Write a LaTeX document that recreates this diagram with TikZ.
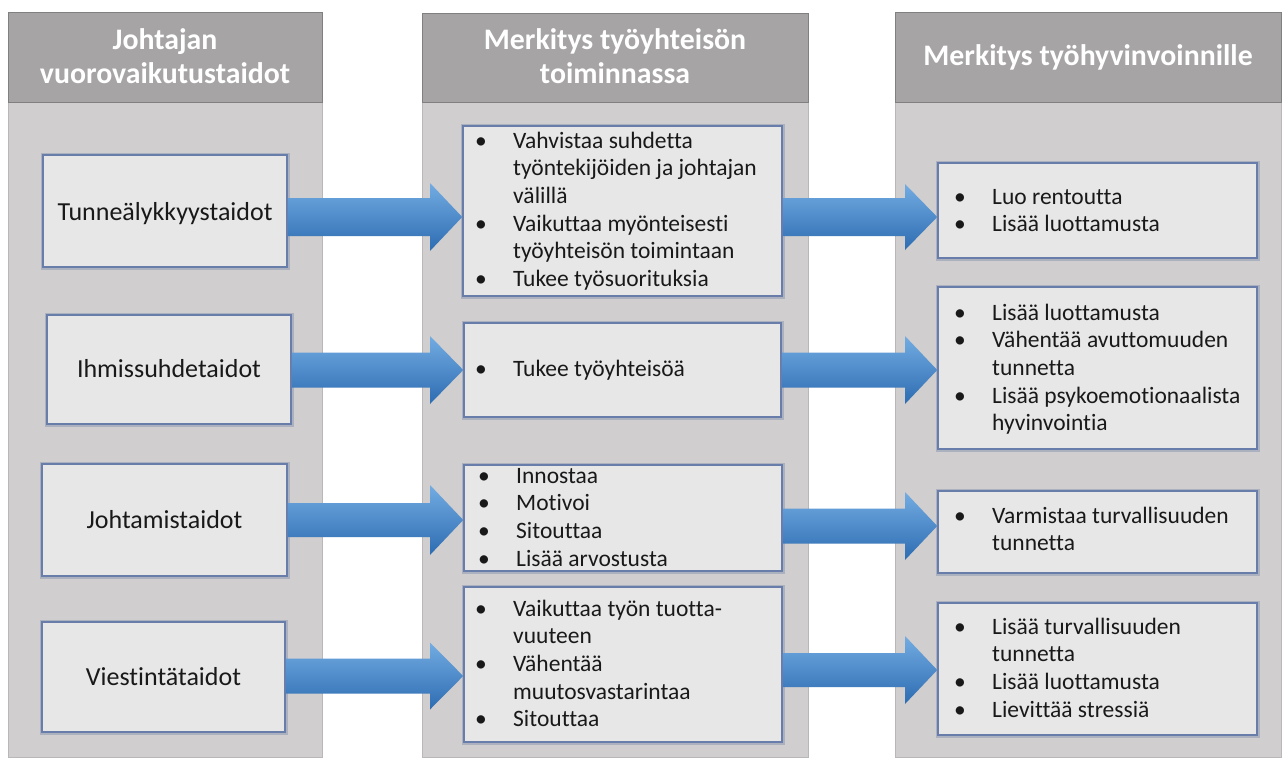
\documentclass[tikz,border=0pt]{standalone}
\usepackage{fontspec}
\setmainfont{Carlito}[Ligatures=NoCommon]
\usetikzlibrary{calc}
\definecolor{hdr}{RGB}{166,164,164}
\definecolor{hdrline}{RGB}{128,128,128}
\definecolor{pnl}{RGB}{208,206,206}
\definecolor{pnlline}{RGB}{185,183,183}
\definecolor{bxfill}{RGB}{232,231,232}
\definecolor{bxline}{RGB}{105,125,170}
\definecolor{bxglow}{RGB}{90,110,160}
\definecolor{arrtop}{RGB}{115,172,226}
\definecolor{arrbot}{RGB}{45,108,178}
\definecolor{txt}{RGB}{25,25,25}
\newlength{\bulw}\setlength{\bulw}{38pt}
\newcommand{\bul}{\makebox[\bulw][l]{\textbullet}}
\newcommand{\ind}{\hspace*{\bulw}}
\newcommand{\llist}[1]{\vtop{\lineskiplimit=-100pt\halign{##\hfil\cr#1\crcr}}}
\newcommand{\clist}[1]{\vtop{\lineskiplimit=-100pt\halign{\hfil##\hfil\cr#1\crcr}}}
\newcommand{\barrow}[6]{%
  \pgfmathsetmacro\arYa{#3-#4}\pgfmathsetmacro\arYb{#3+#4}%
  \pgfmathsetmacro\arYc{#3-#5}\pgfmathsetmacro\arYd{#3+#5}%
  \shade[top color=arrtop, bottom color=arrbot]
    (#1.east |- 0,\arYa) -- (#6,\arYa) -- (#6,\arYc) -- (#2.west |- 0,#3)
    -- (#6,\arYd) -- (#6,\arYb) -- (#1.east |- 0,\arYb) -- cycle;}
\tikzset{
  panel/.style={fill=pnl, draw=pnlline, line width=0.6pt},
  header/.style={fill=hdr, draw=hdrline, line width=0.6pt},
  htext/.style={text=white, font=\fontsize{29.8}{34}\selectfont\bfseries, inner sep=0pt},
  box/.style={rectangle, fill=bxfill, draw=bxline, line width=1.6pt, inner sep=0pt,
    preaction={draw=bxglow, line width=5pt, opacity=0.3}},
  ltext/.style={text=txt, font=\fontsize{26}{31}\selectfont, inner sep=0pt, anchor=base},
  lst/.style={text=txt, font=\fontsize{23.5}{27.7}\selectfont, inner sep=0pt, anchor=base west},
}
\begin{document}
\begin{tikzpicture}[x=1pt,y=-1pt]
\useasboundingbox (0,0) rectangle (1282,758);
\fill[white] (0,0) rectangle (1282,758);
% panels
\path[panel] (8,102) rectangle (322,757);
\path[panel] (422,102) rectangle (808,757);
\path[panel] (895,102) rectangle (1281,757);
\path[header] (8,12) rectangle (322,102);
\path[header] (422,13) rectangle (808,102);
\path[header] (895,12) rectangle (1281,102);
\node[htext, anchor=base] (h1) at (165,49) {\clist{Johtajan\cr vuorovaikutustaidot}};
\node[htext, anchor=base] (h2) at (615,49) {\clist{Merkitys työyhteisön\cr toiminnassa}};
\node[htext, anchor=base] (h3) at (1088,65) {Merkitys työhyvinvoinnille};
% column 1 boxes
\node[box, minimum width=244pt, minimum height=112pt] (b1) at (165,211) {};
\node[box, minimum width=244pt, minimum height=109pt] (b2) at (169,369.5) {};
\node[box, minimum width=245pt, minimum height=112pt] (b3) at (164.5,520) {};
\node[box, minimum width=243pt, minimum height=110pt] (b4) at (163.5,677) {};
% column 2 boxes
\node[box, minimum width=319pt, minimum height=170pt] (c1) at (622.5,211) {};
\node[box, minimum width=317pt, minimum height=94pt] (c2) at (622.5,370) {};
\node[box, minimum width=318pt, minimum height=106pt] (c3) at (623,518) {};
\node[box, minimum width=318pt, minimum height=155pt] (c4) at (623,664.5) {};
% column 3 boxes
\node[box, minimum width=319pt, minimum height=95pt] (d1) at (1097.5,210.5) {};
\node[box, minimum width=319pt, minimum height=162pt] (d2) at (1097.5,368) {};
\node[box, minimum width=319pt, minimum height=82pt] (d3) at (1097.5,532) {};
\node[box, minimum width=319pt, minimum height=132pt] (d4) at (1097.5,669) {};
% column 1 texts
\node[ltext] (t1) at (165,220) {Tunneälykkyystaidot};
\node[ltext] (t2) at (169,377) {Ihmissuhdetaidot};
\node[ltext] (t3) at (164.5,528) {Johtamistaidot};
\node[ltext] (t4) at (163.5,685) {Viestintätaidot};
% column 2 texts
\node[lst] (m1) at (475,148) {\llist{\bul Vahvistaa suhdetta\cr\ind työntekijöiden ja johtajan\cr\ind välillä\cr\bul Vaikuttaa myönteisesti\cr\ind työyhteisön toimintaan\cr\bul Tukee työsuorituksia}};
\node[lst] (m2) at (475,376) {\llist{\bul Tukee työyhteisöä}};
\node[lst] (m3) at (478,483) {\llist{\bul Innostaa\cr\bul Motivoi\cr\bul Sitouttaa\cr\bul Lisää arvostusta}};
\node[lst] (m4) at (475,616) {\llist{\bul Vaikuttaa työn tuotta-\cr\ind vuuteen\cr\bul Vähentää\cr\ind muutosvastarintaa\cr\bul Sitouttaa}};
% column 3 texts
\node[lst] (r1) at (954,204) {\llist{\bul Luo rentoutta\cr\bul Lisää luottamusta}};
\node[lst] (r2) at (954,320) {\llist{\bul Lisää luottamusta\cr\bul Vähentää avuttomuuden\cr\ind tunnetta\cr\bul Lisää psykoemotionaalista\cr\ind hyvinvointia}};
\node[lst] (r3) at (954,523) {\llist{\bul Varmistaa turvallisuuden\cr\ind tunnetta}};
\node[lst] (r4) at (954,634) {\llist{\bul Lisää turvallisuuden\cr\ind tunnetta\cr\bul Lisää luottamusta\cr\bul Lievittää stressiä}};
% arrows
\barrow{b1}{c1}{217}{19}{34}{430}
\barrow{b2}{c2}{370}{17.5}{34}{430}
\barrow{b3}{c3}{520}{17}{35}{430}
\barrow{b4}{c4}{676}{17.5}{33.5}{430}
\barrow{c1}{d1}{217}{19}{33}{905}
\barrow{c2}{d2}{370}{17.5}{34}{905}
\barrow{c3}{d3}{526}{17.5}{34}{905}
\barrow{c4}{d4}{670}{17}{34}{905}
\end{tikzpicture}
\end{document}
